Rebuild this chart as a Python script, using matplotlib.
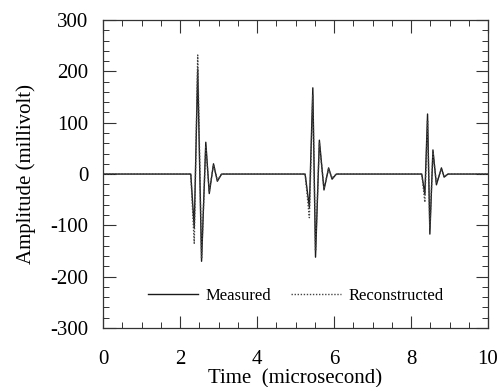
import numpy as np
import matplotlib
matplotlib.use("Agg")
from matplotlib import pyplot as plt
from matplotlib.ticker import MultipleLocator

# burst peak times (microsecond) and amplitudes (millivolt)
t_burst1 = [2.28, 2.37, 2.46, 2.56, 2.67, 2.76, 2.87, 2.97, 3.08]
meas_burst1 = [0, -105, 205, -170, 62, -38, 20, -14, 0]
recon_burst1 = [0, -135, 232, -165, 55, -35, 18, -12, 0]

t_burst2 = [5.25, 5.36, 5.45, 5.52, 5.62, 5.74, 5.86, 5.95, 6.06]
meas_burst2 = [0, -65, 168, -162, 66, -31, 12, -10, 0]
recon_burst2 = [0, -85, 155, -150, 60, -28, 10, -8, 0]

t_burst3 = [8.28, 8.36, 8.43, 8.49, 8.57, 8.66, 8.79, 8.86, 8.96]
meas_burst3 = [0, -40, 117, -117, 47, -21, 12, -6, 0]
recon_burst3 = [0, -55, 105, -105, 42, -18, 10, -5, 0]

x_ticks = [0, 2, 4, 6, 8, 10]
y_ticks = [-300, -200, -100, 0, 100, 200, 300]

t = np.concatenate([[0.0], t_burst1, t_burst2, t_burst3, [10.0]])
measured = np.concatenate([[0.0], meas_burst1, meas_burst2, meas_burst3, [0.0]])
reconstructed = np.concatenate([[0.0], recon_burst1, recon_burst2, recon_burst3, [0.0]])

plt.rcParams['font.family'] = ['Liberation Serif', 'DejaVu Serif']
plt.rcParams['axes.unicode_minus'] = False

fig = plt.figure(figsize=(5.0, 3.87), dpi=100)
ax = fig.add_axes([0.206, 0.1525, 0.77, 0.7955])

ax.plot(t, measured, color='#1a1a1a', lw=1.0, ls='-', label='Measured')
ax.plot(t, reconstructed, color='#444444', lw=1.0, ls=(0, (1, 1.2)), label='Reconstructed')

ax.set_xlim(0, 10)
ax.set_ylim(-300, 300)
ax.set_xticks(x_ticks)
ax.set_yticks(y_ticks)
ax.xaxis.set_minor_locator(MultipleLocator(0.5))
ax.yaxis.set_minor_locator(MultipleLocator(20))
ax.tick_params(which='both', direction='in', top=True, right=True, labelsize=15, color='#333333')
ax.tick_params(which='major', length=9, width=0.8)
ax.tick_params(which='minor', length=4, width=0.7)
ax.tick_params(axis='x', which='major', pad=15.5)
ax.tick_params(axis='y', which='major', pad=10.5)
for s in ax.spines.values():
    s.set_linewidth(0.9)
    s.set_color('#333333')

ax.set_xlabel('Time  (microsecond)', fontsize=15, labelpad=0.5)
ax.set_ylabel('Amplitude (millivolt)', fontsize=15, labelpad=10.5)

ax.legend(loc='center', bbox_to_anchor=(0.5, 0.104), ncol=2, frameon=False,
          fontsize=12, handlelength=3.0, columnspacing=1.2, handletextpad=0.45)

fig.savefig('out.png', dpi=100)
